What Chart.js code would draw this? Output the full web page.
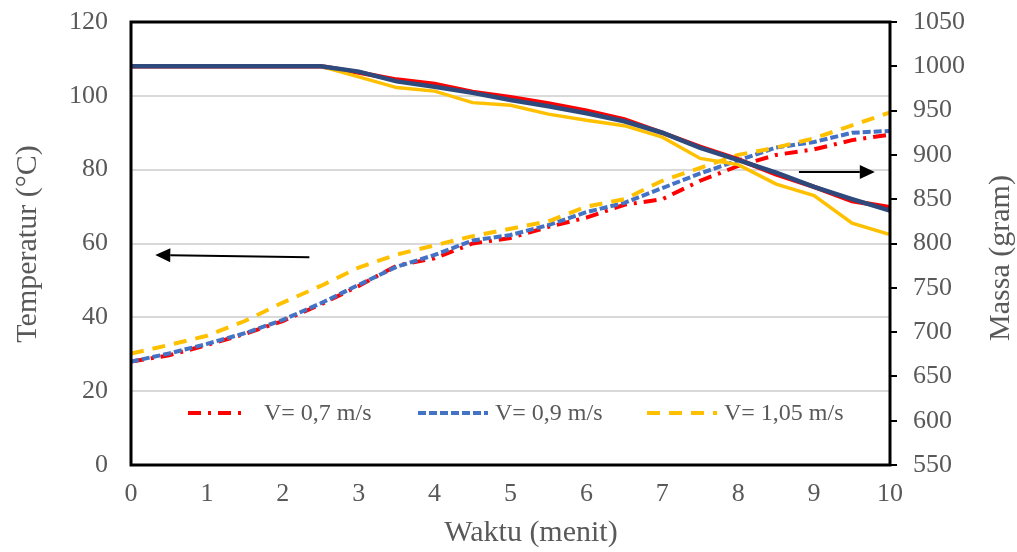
<!DOCTYPE html>
<html>
<head>
<meta charset="utf-8">
<script src="https://cdn.jsdelivr.net/npm/chart.js@4/dist/chart.umd.min.js"></script>
<style>
  html, body { margin: 0; padding: 0; background: #fff; }
  #wrap { width: 1017px; height: 552px; }
</style>
</head>
<body>
<div id="wrap"><canvas id="chart" width="1017" height="552"></canvas></div>
<script>
// time in minutes
var waktu = [0, 0.5, 1, 1.5, 2, 2.5, 3, 3.5, 4, 4.5, 5, 5.5, 6, 6.5, 7, 7.5, 8, 8.5, 9, 9.5, 10];

// temperature (left axis)
var suhu07 = [28, 29.7, 32.5, 35.5, 39, 43.5, 48.5, 54, 56, 60, 61.5, 64.5, 67, 70.5, 72, 77, 81, 84, 85.5, 88, 89.5];
var suhu09 = [28, 30.2, 32.8, 35.7, 39.3, 43.8, 48.8, 53.7, 56.9, 60.8, 62.3, 65, 68.5, 71, 75, 79, 82.5, 86, 87.5, 90, 90.5];
var suhu105 = [30.2, 32.5, 35, 39, 44, 48.5, 53.5, 57, 59.5, 62, 64, 66, 70, 72, 77, 80.5, 84, 86, 88.5, 92, 95.5];

// mass (right axis)
var massa07 = [1000, 1000, 1000, 1000, 1000, 1000, 993, 985, 980, 971, 965, 958, 950, 940, 925, 909, 895, 878, 864, 848, 841];
var massa09 = [1000, 1000, 1000, 1000, 1000, 1000, 994, 983, 977, 970, 962, 955, 947, 938, 925, 908, 894, 880, 864, 850, 837];
var massa105 = [1000, 1000, 1000, 1000, 1000, 1000, 988, 976, 972, 959, 956, 946, 939, 933, 920, 896, 889, 867, 854, 823, 810];

var legendLabels = ['V= 0,7 m/s', 'V= 0,9 m/s', 'V= 1,05 m/s'];

// arrows in data units [x tail, y tail, x head, y head] on left axis
var arrowKiri = [2.35, 56.3, 0.32, 56.9];
var arrowKanan = [8.8, 79.4, 9.8, 79.4];

var serif = "'Liberation Serif', 'Times New Roman', serif";
var grey = '#595959';

function pairs(ys) {
    var out = [];
    for (var i = 0; i < waktu.length; i++) {
        out.push({x: waktu[i], y: ys[i]});
    }
    return out;
}

var datasets = [
    {label: legendLabels[0], data: pairs(suhu07), yAxisID: 'y', borderColor: '#FF0000', borderWidth: 4,
     borderDash: [13, 7, 3, 7], order: 6},
    {label: legendLabels[1], data: pairs(suhu09), yAxisID: 'y', borderColor: '#4472C4', borderWidth: 4,
     borderDash: [8, 3], order: 5},
    {label: legendLabels[2], data: pairs(suhu105), yAxisID: 'y', borderColor: '#FFC000', borderWidth: 4,
     borderDash: [13, 9], order: 4},
    {label: 'm07', data: pairs(massa07), yAxisID: 'y2', borderColor: '#FF0000', borderWidth: 4.5, order: 3},
    {label: 'm105', data: pairs(massa105), yAxisID: 'y2', borderColor: '#FFC000', borderWidth: 3.5, order: 2},
    {label: 'm09', data: pairs(massa09), yAxisID: 'y2', borderColor: '#2E4A7D', borderWidth: 4.5, order: 1}
];
datasets.forEach(function (d) {
    d.fill = false;
    d.tension = 0;
    d.pointRadius = 0;
    d.borderCapStyle = 'butt';
});

function arrow(ctx, x1, y1, x2, y2) {
    var ang = Math.atan2(y2 - y1, x2 - x1);
    var len = 15, half = 7;
    var bx = x2 - Math.cos(ang) * len, by = y2 - Math.sin(ang) * len;
    ctx.beginPath();
    ctx.moveTo(x1, y1);
    ctx.lineTo(bx, by);
    ctx.stroke();
    ctx.beginPath();
    ctx.moveTo(x2, y2);
    ctx.lineTo(bx + Math.sin(ang) * half, by - Math.cos(ang) * half);
    ctx.lineTo(bx - Math.sin(ang) * half, by + Math.cos(ang) * half);
    ctx.closePath();
    ctx.fill();
}

var extras = {
    id: 'extras',
    afterDatasetsDraw: function (chart) {
        var ctx = chart.ctx, a = chart.chartArea;
        var sx = chart.scales.x, sy = chart.scales.y;
        ctx.save();
        // frame
        ctx.strokeStyle = '#000';
        ctx.lineWidth = 3;
        ctx.strokeRect(a.left, a.top, a.right - a.left, a.bottom - a.top);

        // arrows
        ctx.lineWidth = 2;
        ctx.fillStyle = '#000';
        [arrowKiri, arrowKanan].forEach(function (r) {
            arrow(ctx, sx.getPixelForValue(r[0]), sy.getPixelForValue(r[1]),
                  sx.getPixelForValue(r[2]), sy.getPixelForValue(r[3]));
        });

        // legend (temperature series only)
        var ly = 413;
        var starts = [a.left + 57, a.left + 287, a.left + 516];
        ctx.font = '24px ' + serif;
        ctx.textBaseline = 'middle';
        ctx.textAlign = 'left';
        for (var i = 0; i < 3; i++) {
            var ds = chart.data.datasets[i];
            var w = i === 0 ? 58 : 70;
            ctx.strokeStyle = ds.borderColor;
            ctx.lineWidth = ds.borderWidth;
            ctx.setLineDash(ds.borderDash);
            ctx.beginPath();
            ctx.moveTo(starts[i], ly);
            ctx.lineTo(starts[i] + w, ly);
            ctx.stroke();
            ctx.setLineDash([]);
            ctx.fillStyle = grey;
            ctx.fillText(ds.label, starts[i] + (i === 0 ? 76 : 77), ly + 1);
        }

        // axis titles
        ctx.fillStyle = grey;
        ctx.font = '30px ' + serif;
        ctx.textAlign = 'center';
        ctx.fillText('Waktu (menit)', 531, 533);
        ctx.save();
        ctx.translate(28, 244);
        ctx.rotate(-Math.PI / 2);
        ctx.fillText('Temperatur (°C)', 0, 0);
        ctx.restore();
        ctx.save();
        ctx.translate(1001, 258);
        ctx.rotate(-Math.PI / 2);
        ctx.fillText('Massa (gram)', 0, 0);
        ctx.restore();
        ctx.restore();
    }
};

function plain(v) { return String(v); }

new Chart(document.getElementById('chart').getContext('2d'), {
    type: 'line',
    data: {datasets: datasets},
    options: {
        responsive: false,
        animation: false,
        layout: {padding: {top: 22, left: 0, right: 0, bottom: 0}},
        plugins: {legend: {display: false}, tooltip: {enabled: false}},
        scales: {
            x: {
                type: 'linear', min: 0, max: 10,
                ticks: {stepSize: 1, color: grey, font: {family: serif, size: 26}, padding: 14, maxRotation: 0, callback: plain},
                grid: {display: false, drawTicks: false},
                border: {display: false},
                afterFit: function (s) { s.height = 87; s.paddingLeft = 0; s.paddingRight = 0; }
            },
            y: {
                position: 'left', min: 0, max: 120,
                ticks: {stepSize: 20, color: grey, font: {family: serif, size: 26}, padding: 23, callback: plain},
                grid: {color: '#D9D9D9', lineWidth: 2, drawTicks: false},
                border: {display: false},
                afterFit: function (s) { s.width = 131; s.paddingTop = 0; s.paddingBottom = 0; }
            },
            y2: {
                position: 'right', min: 550, max: 1050,
                ticks: {stepSize: 50, color: grey, font: {family: serif, size: 26}, padding: 16, callback: plain},
                grid: {drawOnChartArea: false, drawTicks: true, tickLength: 7, color: '#000', lineWidth: 2},
                border: {display: false},
                afterFit: function (s) { s.width = 127; s.paddingTop = 0; s.paddingBottom = 0; }
            }
        }
    },
    plugins: [extras]
});
</script>
</body>
</html>
